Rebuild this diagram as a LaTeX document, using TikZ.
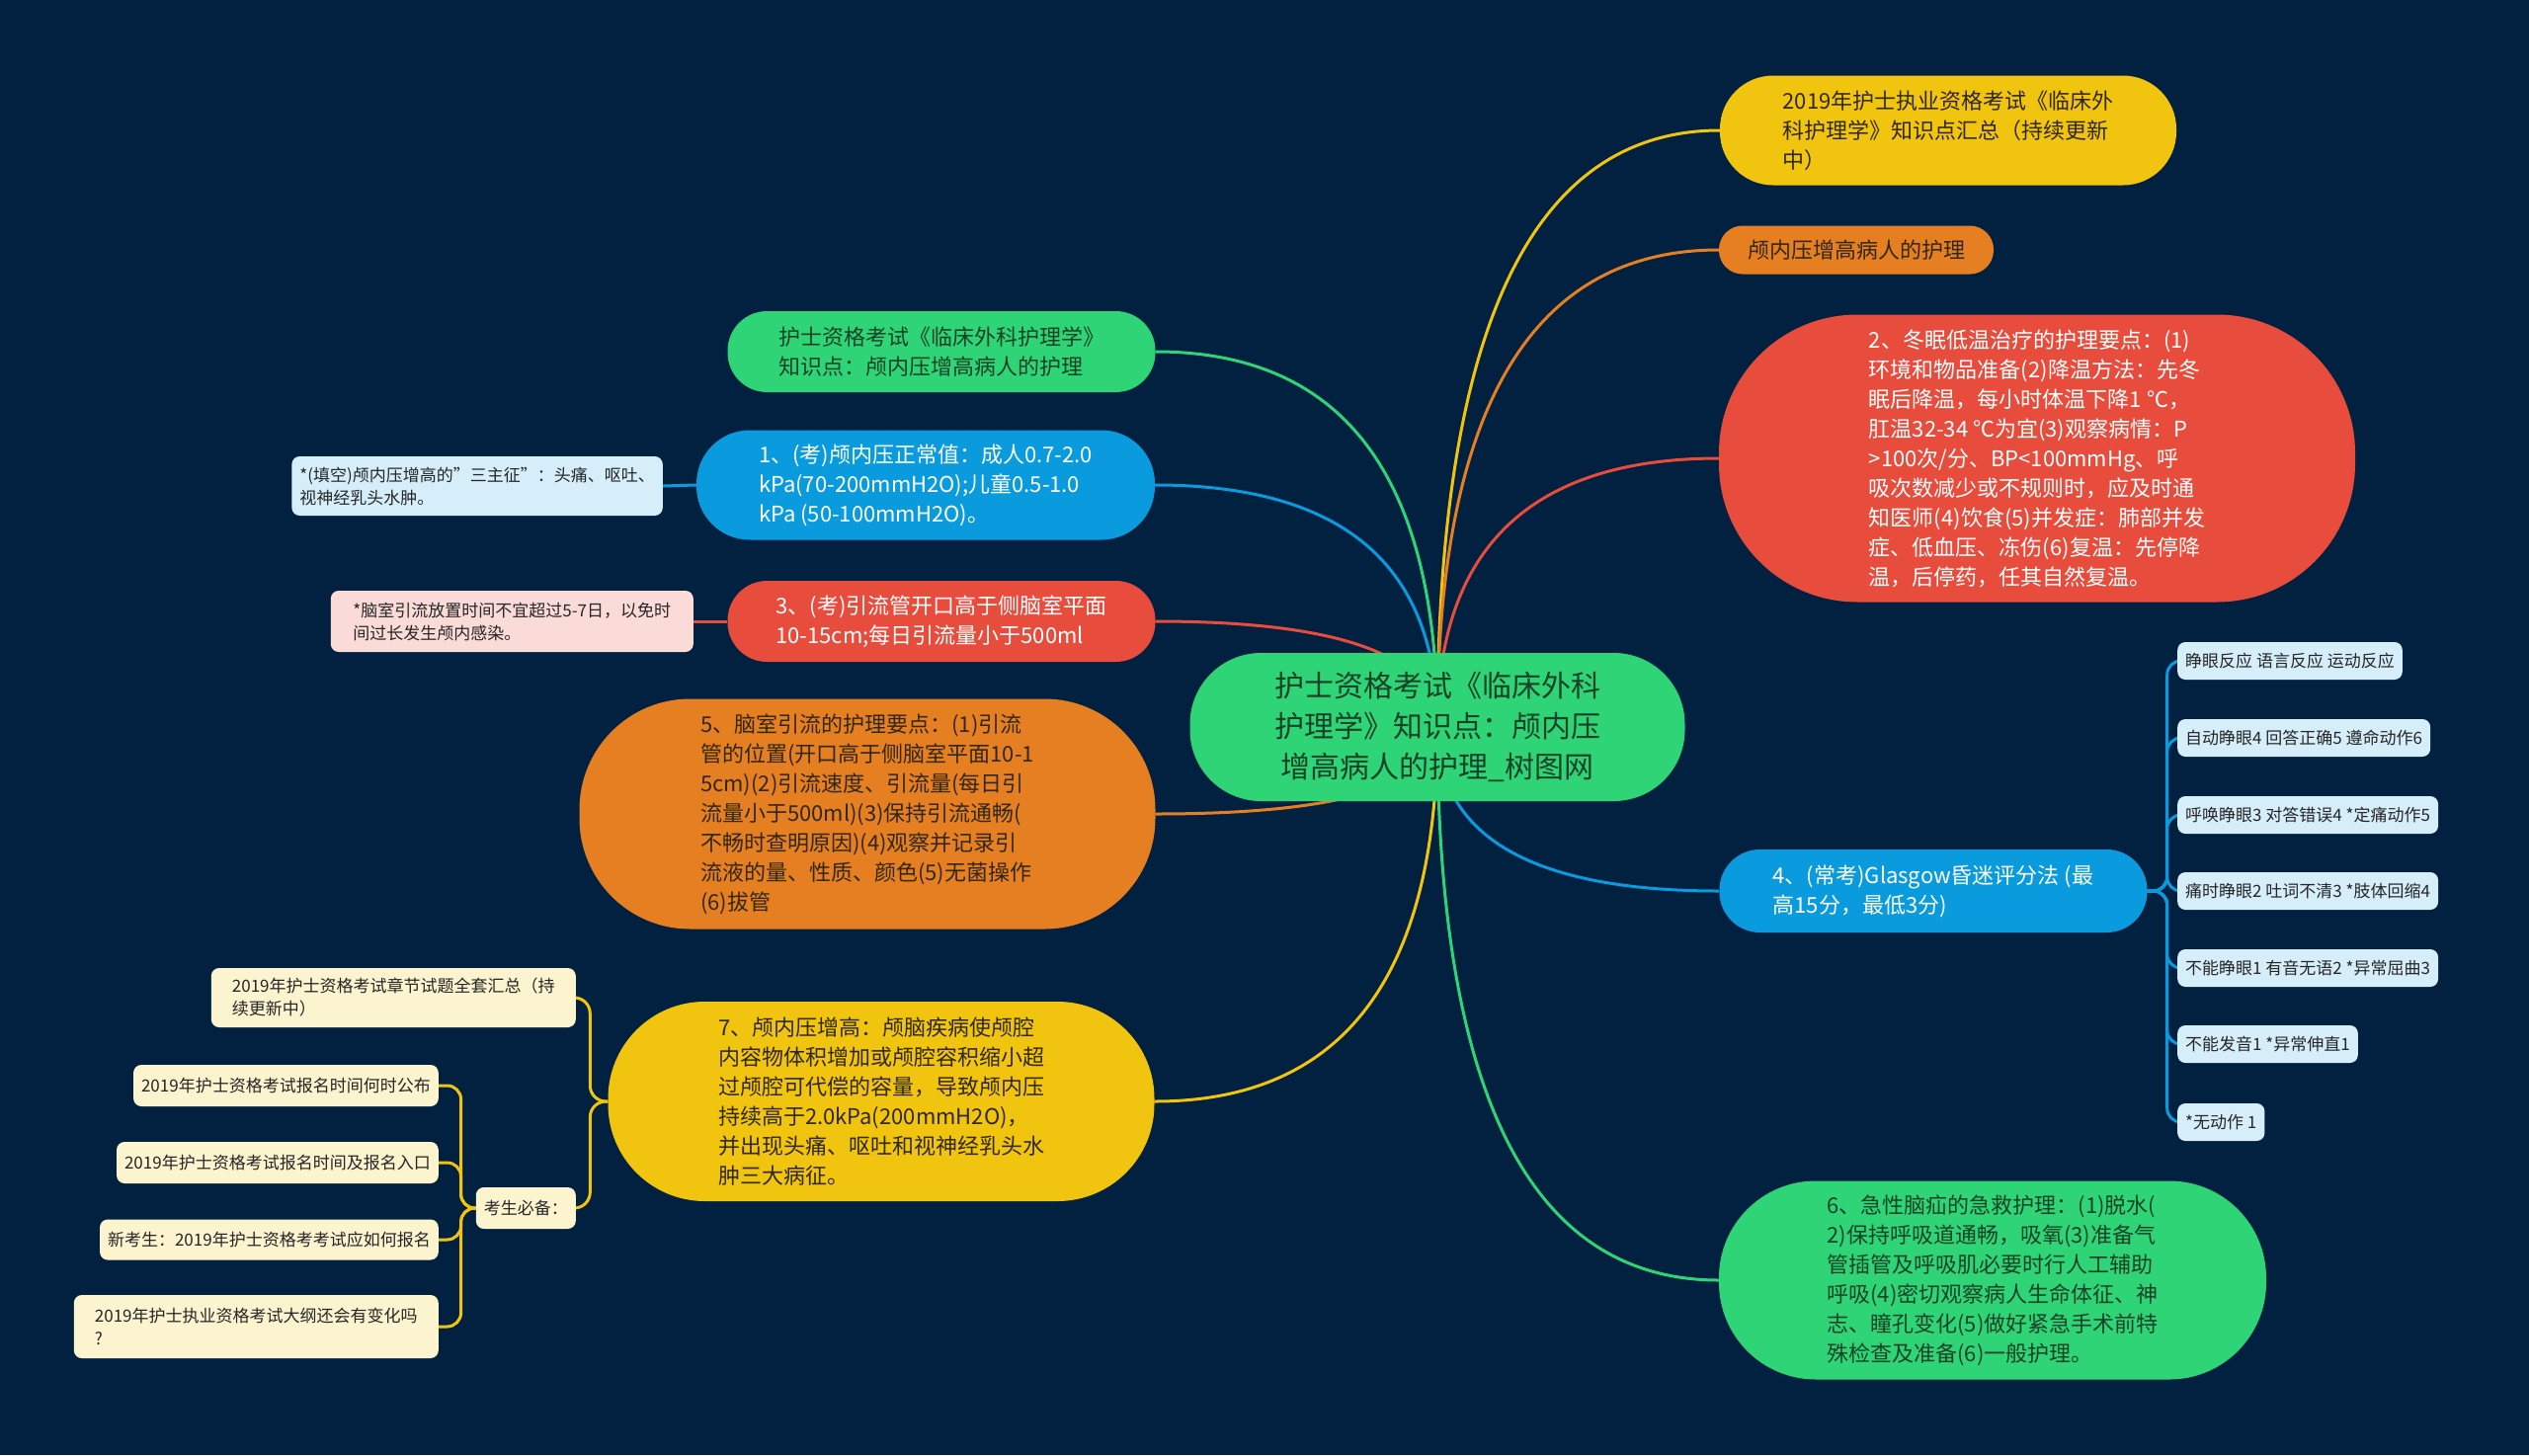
\documentclass[tikz,border=0pt]{standalone}
\usepackage{fontspec}
\setmainfont{Noto Sans CJK SC}
\usetikzlibrary{backgrounds,calc}

\definecolor{bgnavy}{RGB}{2,33,64}
\definecolor{mgreen}{RGB}{46,212,118}
\definecolor{myellow}{RGB}{241,196,15}
\definecolor{morange}{RGB}{230,126,34}
\definecolor{mred}{RGB}{231,76,60}
\definecolor{mblue}{RGB}{9,155,221}
\definecolor{nblue}{RGB}{214,238,250}
\definecolor{npink}{RGB}{250,219,216}
\definecolor{nyellow}{RGB}{252,243,207}
\definecolor{tgreen}{RGB}{24,66,38}
\definecolor{tdark}{RGB}{48,40,18}

\begin{document}
\begin{tikzpicture}[x=1pt,y=-1pt,
  topic/.style={inner sep=0pt, align=left, font=\fontsize{22}{30}\selectfont},
  note/.style={rounded corners=8pt, inner xsep=8pt, inner ysep=5pt, align=left,
    text=black!85, font=\fontsize{17}{23}\selectfont},
  link/.style={line width=3pt}]
 \useasboundingbox (0,0) rectangle (2560,1473);

 % centre
 \node[topic, align=center, fill=mgreen, text=tgreen, font=\fontsize{30}{41}\selectfont,
   minimum width=501pt, minimum height=150pt, rounded corners=72pt] (c) at (1455,736)
   {护士资格考试《临床外科\\护理学》知识点：颅内压\\增高病人的护理\_树图网};

 % right side
 \node[topic, fill=myellow, text=tdark, minimum width=462pt, minimum height=111pt,
   rounded corners=54pt] (n0) at (1972,132)
   {2019年护士执业资格考试《临床外\\科护理学》知识点汇总（持续更新\\中）};
 \node[topic, fill=morange, text=tdark, minimum width=278pt, minimum height=49pt,
   rounded corners=24pt] (nh) at (1879,253) {颅内压增高病人的护理};
 \node[topic, fill=mred, text=white, minimum width=644pt, minimum height=291pt,
   rounded corners=140pt] (n2) at (2062,464)
   {2、冬眠低温治疗的护理要点：(1)\\环境和物品准备(2)降温方法：先冬\\眠后降温，每小时体温下降1 ℃，\\肛温32-34 ℃为宜(3)观察病情：P\\>100次/分、BP<100mmHg、呼\\吸次数减少或不规则时，应及时通\\知医师(4)饮食(5)并发症：肺部并发\\症、低血压、冻伤(6)复温：先停降\\温，后停药，任其自然复温。};
 \node[topic, fill=mblue, text=white, minimum width=433pt, minimum height=84pt,
   rounded corners=41pt] (n4) at (1957,902)
   {4、(常考)Glasgow昏迷评分法 (最\\高15分，最低3分)};
 \node[topic, fill=mgreen, text=tgreen, minimum width=554pt, minimum height=201pt,
   rounded corners=98pt] (n6) at (2017,1296)
   {6、急性脑疝的急救护理：(1)脱水(\\2)保持呼吸道通畅，吸氧(3)准备气\\管插管及呼吸肌必要时行人工辅助\\呼吸(4)密切观察病人生命体征、神\\志、瞳孔变化(5)做好紧急手术前特\\殊检查及准备(6)一般护理。};

 % glasgow rows
 \node[note, fill=nblue, anchor=west, minimum height=38pt] (g1) at (2204,669) {睁眼反应 语言反应 运动反应};
 \node[note, fill=nblue, anchor=west, minimum height=38pt] (g2) at (2204,747) {自动睁眼4 回答正确5 遵命动作6};
 \node[note, fill=nblue, anchor=west, minimum height=38pt] (g3) at (2204,825) {呼唤睁眼3 对答错误4 *定痛动作5};
 \node[note, fill=nblue, anchor=west, minimum height=38pt] (g4) at (2204,902) {痛时睁眼2 吐词不清3 *肢体回缩4};
 \node[note, fill=nblue, anchor=west, minimum height=38pt] (g5) at (2204,980) {不能睁眼1 有音无语2 *异常屈曲3};
 \node[note, fill=nblue, anchor=west, minimum height=38pt] (g6) at (2204,1057) {不能发音1 *异常伸直1};
 \node[note, fill=nblue, anchor=west, minimum height=38pt] (g7) at (2204,1136) {*无动作 1};

 % left side
 \node[topic, fill=mgreen, text=tgreen, minimum width=433pt, minimum height=82pt,
   rounded corners=40pt] (nt) at (953,356)
   {护士资格考试《临床外科护理学》\\知识点：颅内压增高病人的护理};
 \node[topic, fill=mblue, text=white, minimum width=464pt, minimum height=111pt,
   rounded corners=54pt] (n1) at (937,491)
   {1、(考)颅内压正常值：成人0.7-2.0\\kPa(70-200mmH2O);儿童0.5-1.0\\kPa (50-100mmH2O)。};
 \node[topic, fill=mred, text=white, minimum width=433pt, minimum height=82pt,
   rounded corners=40pt] (n3) at (953,629)
   {3、(考)引流管开口高于侧脑室平面\\10-15cm;每日引流量小于500ml};
 \node[topic, fill=morange, text=tdark, minimum width=583pt, minimum height=233pt,
   rounded corners=112pt] (n5) at (878,824)
   {5、脑室引流的护理要点：(1)引流\\管的位置(开口高于侧脑室平面10-1\\5cm)(2)引流速度、引流量(每日引\\流量小于500ml)(3)保持引流通畅(\\不畅时查明原因)(4)观察并记录引\\流液的量、性质、颜色(5)无菌操作\\(6)拔管};
 \node[topic, fill=myellow, text=tdark, minimum width=553pt, minimum height=202pt,
   rounded corners=98pt] (n7) at (892,1115)
   {7、颅内压增高：颅脑疾病使颅腔\\内容物体积增加或颅腔容积缩小超\\过颅腔可代偿的容量，导致颅内压\\持续高于2.0kPa(200mmH2O)，\\并出现头痛、呕吐和视神经乳头水\\肿三大病征。};

 % notes
 \node[note, fill=nblue, anchor=east, minimum width=366pt, minimum height=60pt] (s1) at (671,492)
   {*(填空)颅内压增高的"三主征"：头痛、呕吐、\\视神经乳头水肿。};
 \node[note, fill=npink, anchor=east, minimum width=367pt, minimum height=62pt] (s3) at (702,629)
   {*脑室引流放置时间不宜超过5-7日，以免时\\间过长发生颅内感染。};

 % exam links
 \node[note, fill=nyellow, anchor=east, minimum width=369pt, minimum height=60pt] (ka) at (583,1010)
   {2019年护士资格考试章节试题全套汇总（持\\续更新中）};
 \node[note, fill=nyellow, anchor=east, minimum height=42pt] (kb) at (583,1223) {考生必备：};
 \node[note, fill=nyellow, anchor=east, minimum height=42pt] (kb1) at (444,1099) {2019年护士资格考试报名时间何时公布};
 \node[note, fill=nyellow, anchor=east, minimum height=42pt] (kb2) at (444,1177) {2019年护士资格考试报名时间及报名入口};
 \node[note, fill=nyellow, anchor=east, minimum height=41pt] (kb3) at (444,1255) {新考生：2019年护士资格考考试应如何报名};
 \node[note, fill=nyellow, anchor=east, minimum width=369pt, minimum height=64pt] (kb4) at (444,1343)
   {2019年护士执业资格考试大纲还会有变化吗\\?};

 \begin{scope}[on background layer]
  \fill[bgnavy] (0,0) rectangle (2560,1473);
  % branches from the centre
  \foreach \t/\a/\col in {n0/west/myellow, nh/west/morange, n2/west/mred, n4/west/mblue,
      n6/west/mgreen, nt/east/mgreen, n1/east/mblue, n3/east/mred, n5/east/morange, n7/east/myellow}
   \draw[link, \col] (c.center)
     .. controls ($(c.center)!0.667!(c.center |- \t.\a)$) and ($(\t.\a)!0.667!(c.center |- \t.\a)$)
     .. (\t.\a);
  % second level
  \foreach \g in {g1,g2,g3,g4,g5,g6,g7}
   \draw[link, mblue, rounded corners=14pt] (n4.east) -- ++(20,0) |- (\g.west);
  \draw[link, mblue] (n1.west) -- (s1.east);
  \draw[link, mred] (n3.west) -- (s3.east);
  \draw[link, myellow, rounded corners=16pt] (n7.west) -- ++(-18,0) |- (ka.east);
  \draw[link, myellow, rounded corners=16pt] (n7.west) -- ++(-18,0) |- (kb.east);
  \foreach \k in {kb1,kb2,kb3,kb4}
   \draw[link, myellow, rounded corners=14pt] (kb.west) -- ++(-15,0) |- (\k.east);
 \end{scope}
\end{tikzpicture}
\end{document}
